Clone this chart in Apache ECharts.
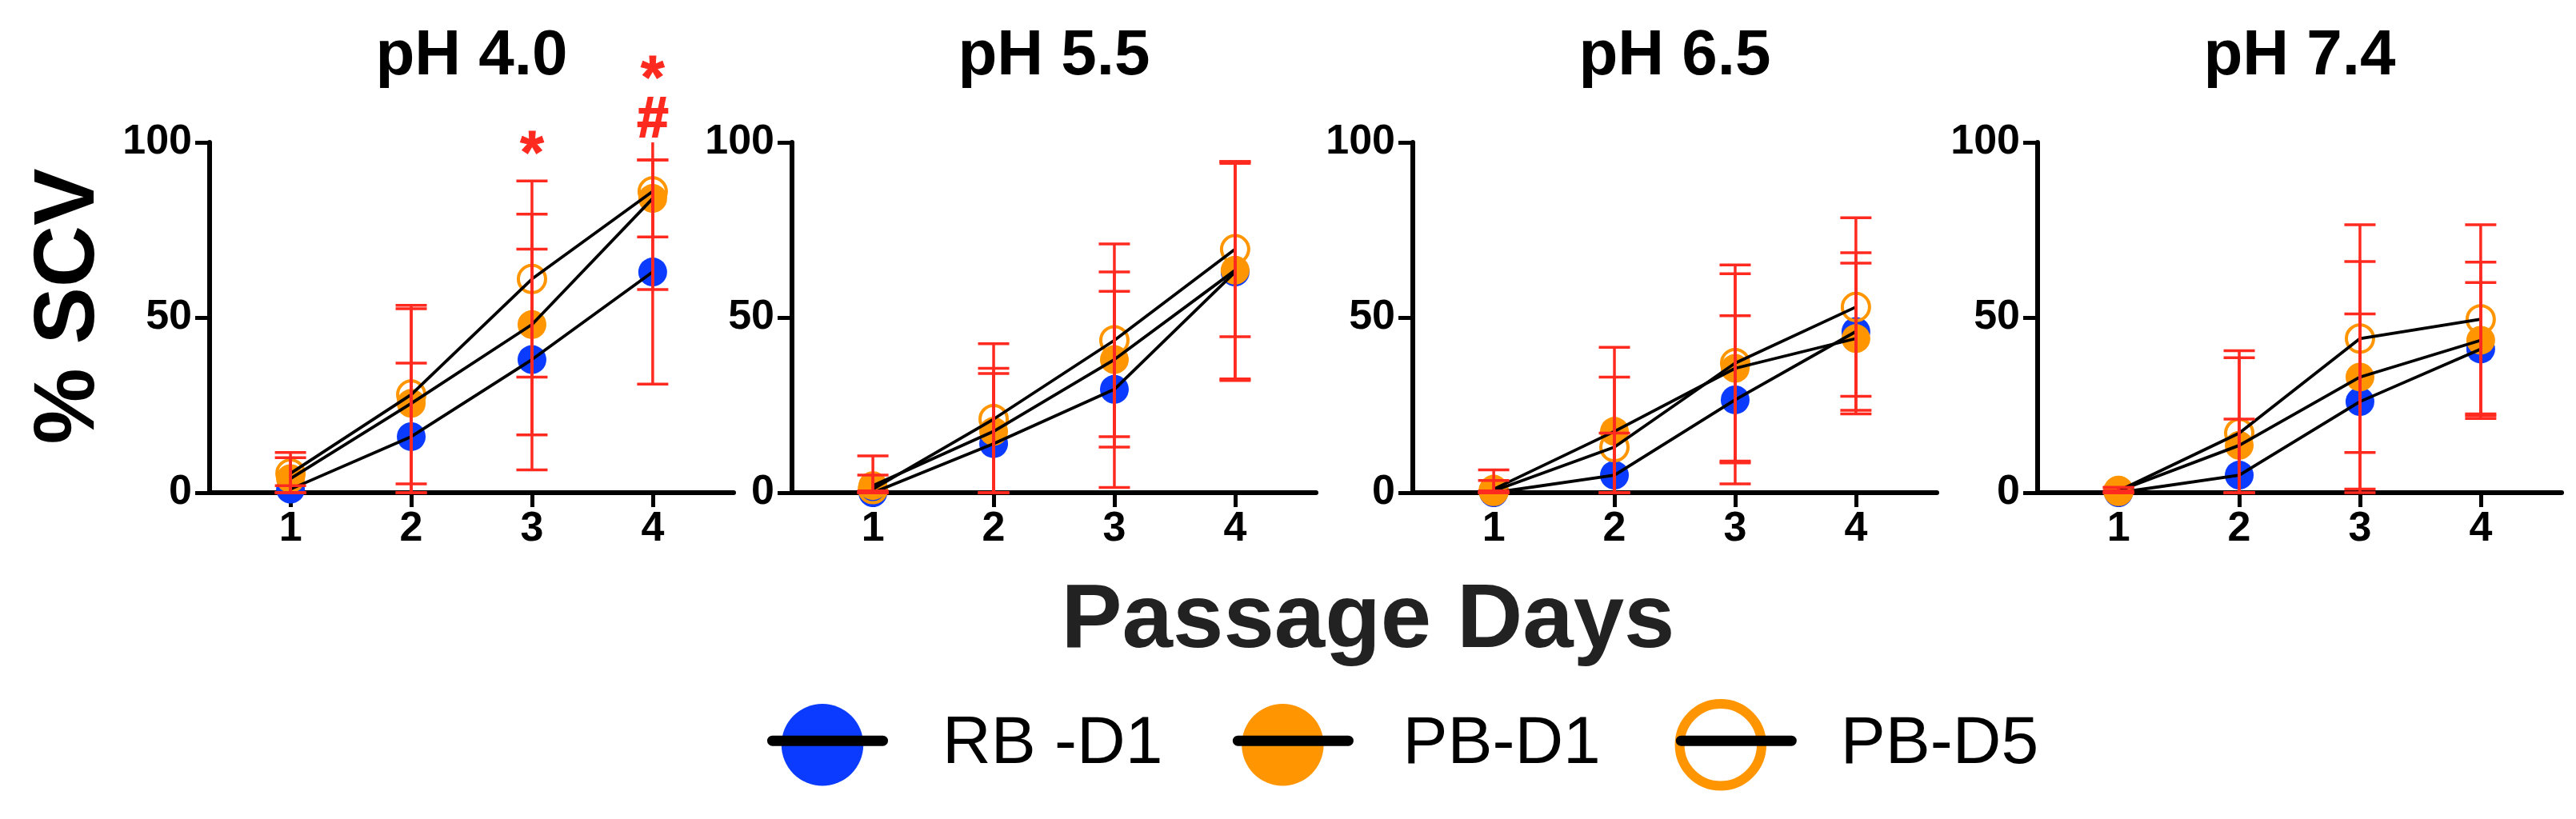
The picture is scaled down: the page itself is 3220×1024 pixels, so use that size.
<!DOCTYPE html>
<html>
<head>
<meta charset="utf-8">
<script src="https://cdn.jsdelivr.net/npm/echarts@6/dist/echarts.min.js"></script>
<style>
html,body{margin:0;padding:0;background:#fff;}
#chart{width:3220px;height:1024px;}
</style>
</head>
<body>
<div id="chart"></div>
<script>
// ---------- data ----------
const days = [1, 2, 3, 4];
const panelTitles = ['pH 4.0', 'pH 5.5', 'pH 6.5', 'pH 7.4'];
const groupNames = ['RB -D1', 'PB-D1', 'PB-D5'];

// means per panel (pH 4.0, 5.5, 6.5, 7.4), per passage day
const rbD1Mean = [[1, 16, 38, 63], [0, 14, 29.5, 63], [0, 5, 26.5, 46], [0, 5, 26, 41]];
const pbD1Mean = [[4, 25.5, 48, 84], [2, 17.5, 38, 63.5], [1, 17.5, 35.5, 44], [0.5, 13.5, 33, 43.5]];
const pbD5Mean = [[5.5, 28, 61, 86], [1, 21, 43.5, 69.5], [0.5, 13, 37, 53], [0.5, 17, 44, 49.5]];

// error (SD) per panel, per passage day
const rbD1Err = [[1, 21, 31.5, 32], [0.5, 20, 28, 31], [0.5, 12, 24, 22.5], [0.5, 16, 25, 19]];
const pbD1Err = [[6, 27, 31.5, 11], [8.5, 18, 25, 31], [5.5, 24, 27, 21.5], [1, 25, 33, 22.3]];
const pbD5Err = [[6, 25.5, 28, 28], [4, 21.5, 27.5, 25], [3, 20, 28, 25.5], [1, 23.5, 32.5, 27]];

// significance marks in the pH 4.0 panel
const annoX = [3, 4, 4];
const annoY = [96, 117.6, 106];
const annoText = ['*', '*', '#'];

const yTicks = [0, 50, 100];

// ---------- styles / layout ----------
const FONT = "'Liberation Sans', Arial, Helvetica, sans-serif";
const BLUE = '#0a3bff';
const ORANGE = '#ff9500';
const RED = '#ff2a1f';
const Y_MIN = 0, Y_MAX = 100;
const gridLefts = [262, 990, 1766, 2547];
const gridWidth = 655, gridTop = 178, gridHeight = 438;

const means = [rbD1Mean, pbD1Mean, pbD5Mean];
const errs = [rbD1Err, pbD1Err, pbD5Err];
const markerStyles = [
  { symbol: 'circle', symbolSize: 36, itemStyle: { color: BLUE, borderWidth: 0 } },
  { symbol: 'circle', symbolSize: 36, itemStyle: { color: ORANGE, borderWidth: 0 } },
  { symbol: 'circle', symbolSize: 34, itemStyle: { color: 'rgba(0,0,0,0)', borderColor: ORANGE, borderWidth: 4 } }
];

function renderErr(params, api) {
  const x = api.value(0), m = api.value(1), e = api.value(2);
  const lo = Math.max(Y_MIN, m - e), hi = Math.min(Y_MAX, m + e);
  const pLo = api.coord([x, lo]), pHi = api.coord([x, hi]);
  const st = { stroke: RED, lineWidth: 3.5 };
  const hw = 19.5;
  const children = [
    { type: 'line', shape: { x1: pLo[0], y1: pLo[1], x2: pHi[0], y2: pHi[1] }, style: st },
    { type: 'line', shape: { x1: pLo[0] - hw, y1: pLo[1], x2: pLo[0] + hw, y2: pLo[1] }, style: st }
  ];
  if (m + e <= Y_MAX) {
    children.push({ type: 'line', shape: { x1: pHi[0] - hw, y1: pHi[1], x2: pHi[0] + hw, y2: pHi[1] }, style: st });
  }
  return { type: 'group', children };
}

function renderAnno(params, api) {
  const p = api.coord([api.value(0), api.value(1)]);
  const txt = annoText[params.dataIndex];
  return {
    type: 'text', x: p[0], y: p[1],
    style: { text: txt, fill: RED, fontSize: txt === '*' ? 76 : 70, fontWeight: 'bold', fontFamily: FONT,
             align: 'center', verticalAlign: 'middle', stroke: RED, lineWidth: txt === '#' ? 2 : 1 }
  };
}

const grids = [], xAxes = [], yAxes = [], series = [], graphics = [];
for (let p = 0; p < 4; p++) {
  grids.push({ left: gridLefts[p], top: gridTop, width: gridWidth, height: gridHeight, containLabel: false });
  xAxes.push({
    type: 'value', gridIndex: p, min: 0.33, max: 4.67,
    axisLine: { show: true, onZero: false, lineStyle: { color: '#000', width: 6 } },
    axisTick: { show: true, length: 18, lineStyle: { color: '#000', width: 5 }, customValues: days },
    axisLabel: { show: true, customValues: days, margin: 20, fontSize: 52, fontWeight: 'bold', fontFamily: FONT, color: '#000' },
    splitLine: { show: false }
  });
  yAxes.push({
    type: 'value', gridIndex: p, min: Y_MIN, max: Y_MAX, interval: 50,
    axisLine: { show: true, lineStyle: { color: '#000', width: 6 } },
    axisTick: { show: true, length: 18, lineStyle: { color: '#000', width: 5 }, customValues: yTicks },
    axisLabel: { show: true, customValues: yTicks, margin: 22, fontSize: 52, fontWeight: 'bold', fontFamily: FONT, color: '#000' },
    splitLine: { show: false }
  });
  // markers
  for (let g = 0; g < 3; g++) {
    series.push({
      type: 'line', name: groupNames[g], xAxisIndex: p, yAxisIndex: p,
      data: days.map((d, i) => [d, means[g][p][i]]),
      symbol: markerStyles[g].symbol, symbolSize: markerStyles[g].symbolSize,
      itemStyle: markerStyles[g].itemStyle,
      lineStyle: { opacity: 0, width: 0 },
      showSymbol: true, clip: false, z: 2, silent: true, animation: false
    });
  }
  // connecting lines
  for (let g = 0; g < 3; g++) {
    series.push({
      type: 'line', name: groupNames[g], xAxisIndex: p, yAxisIndex: p,
      data: days.map((d, i) => [d, means[g][p][i]]),
      symbol: 'none', showSymbol: false,
      lineStyle: { color: '#000', width: 3.8 },
      itemStyle: { color: markerStyles[g].itemStyle.color },
      z: 3, silent: true, animation: false
    });
  }
  // error bars
  for (let g = 0; g < 3; g++) {
    series.push({
      type: 'custom', name: groupNames[g], xAxisIndex: p, yAxisIndex: p,
      data: days.map((d, i) => [d, means[g][p][i], errs[g][p][i]]),
      encode: { x: 0, y: 1 },
      renderItem: renderErr, z: 4, silent: true, animation: false, clip: false
    });
  }
  graphics.push({
    type: 'text', x: gridLefts[p] + gridWidth / 2, y: 71, z: 10,
    style: { text: panelTitles[p], fontSize: 80, fontWeight: 'bold', fontFamily: FONT, fill: '#000', align: 'center', verticalAlign: 'middle' }
  });
}

// significance annotations (pH 4.0)
series.push({
  type: 'custom', name: 'sig', xAxisIndex: 0, yAxisIndex: 0,
  data: annoX.map((x, i) => [x, annoY[i]]),
  encode: { x: 0, y: 1 },
  renderItem: renderAnno, clip: false, silent: true, animation: false, z: 5
});

graphics.push({
  type: 'text', x: 1710, y: 778, z: 10,
  style: { text: 'Passage Days', fontSize: 114, fontWeight: 'bold', fontFamily: FONT, fill: '#222', align: 'center', verticalAlign: 'middle' }
});
graphics.push({
  type: 'text', x: 87, y: 383, rotation: Math.PI / 2, z: 10,
  style: { text: '% SCV', fontSize: 107, fontWeight: 'bold', fontFamily: FONT, fill: '#000', align: 'center', verticalAlign: 'middle' }
});

const legendBase = {
  left: 959, top: 874, orient: 'horizontal', padding: 0,
  itemWidth: 138, itemHeight: 128, itemGap: 81, selectedMode: false
};
const legendA = Object.assign({}, legendBase, {
  z: 8,
  data: [
    { name: 'RB -D1' },
    { name: 'PB-D1' },
    { name: 'PB-D5', itemStyle: { color: 'rgba(0,0,0,0)', borderColor: ORANGE, borderWidth: 12 } }
  ],
  lineStyle: { opacity: 0, width: 0 },
  textStyle: { fontSize: 84, fontFamily: FONT, color: '#000', padding: [0, 0, 0, 76] }
});
const legendB = Object.assign({}, legendBase, {
  z: 9,
  data: groupNames.slice(),
  itemStyle: { opacity: 0 },
  lineStyle: { color: '#000', width: 13, opacity: 1, cap: 'round', type: 'solid' },
  textStyle: { fontSize: 84, fontFamily: FONT, color: 'rgba(0,0,0,0)', padding: [0, 0, 0, 76] }
});

const chart = echarts.init(document.getElementById('chart'), null, { renderer: 'canvas' });
chart.setOption({
  backgroundColor: '#fff',
  animation: false,
  grid: grids,
  xAxis: xAxes,
  yAxis: yAxes,
  legend: [legendA, legendB],
  graphic: graphics,
  series: series
});
</script>
</body>
</html>
